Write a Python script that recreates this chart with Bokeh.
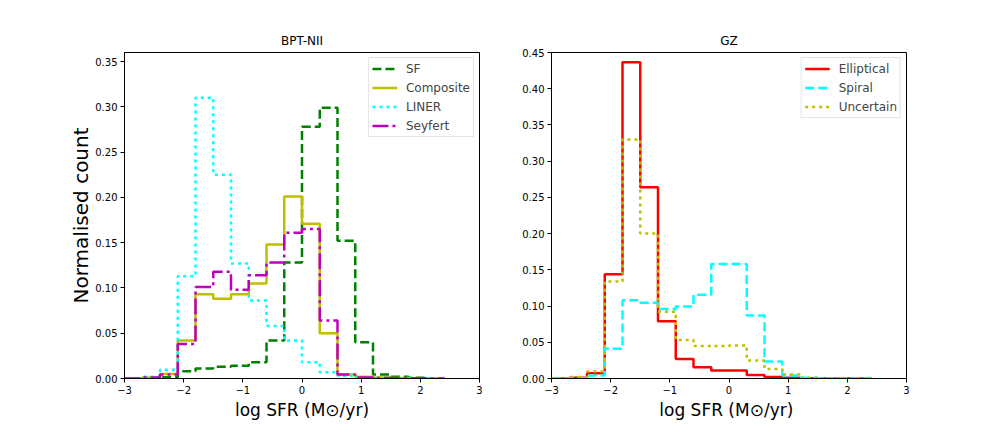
from bokeh.plotting import figure
from bokeh.layouts import row
from bokeh.models import Legend, LegendItem, Range1d, FixedTicker
from bokeh.embed import file_html
from bokeh.resources import INLINE

# ---- data ----
edges = [-3.0, -2.7, -2.4, -2.1, -1.8, -1.5, -1.2, -0.9, -0.6, -0.3, 0.0,
         0.3, 0.6, 0.9, 1.2, 1.5, 1.8, 2.1, 2.4]

sf = [0, 0, 0.0015, 0.008, 0.011, 0.013, 0.014, 0.018, 0.042, 0.128, 0.278,
      0.299, 0.152, 0.040, 0.0044, 0.002, 0.0008, 0.0003]
composite = [0, 0.001, 0.005, 0.042, 0.093, 0.088, 0.093, 0.105, 0.148, 0.201,
             0.171, 0.050, 0.0045, 0.002, 0.001, 0.0005, 0.0003, 0.0002]
liner = [0, 0.002, 0.0096, 0.113, 0.310, 0.225, 0.127, 0.086, 0.058, 0.042,
         0.018, 0.007, 0.003, 0.001, 0.0005, 0.0003, 0.0002, 0.0001]
seyfert = [0, 0.001, 0.0044, 0.038, 0.101, 0.118, 0.098, 0.114, 0.128, 0.161,
           0.165, 0.064, 0.0044, 0.001, 0.0005, 0.0003, 0.0002, 0.0001]

elliptical = [0, 0.001, 0.0074, 0.144, 0.4365, 0.264, 0.079, 0.027, 0.0157,
              0.011, 0.011, 0.005, 0.002, 0.001, 0.0005, 0.0003, 0.0002, 0.0001]
spiral = [0, 0.0005, 0.004, 0.041, 0.108, 0.1045, 0.096, 0.0995, 0.1155, 0.158,
          0.158, 0.087, 0.0235, 0.004, 0.001, 0.0005, 0.0003, 0.0002]
uncertain = [0, 0.002, 0.0097, 0.134, 0.33, 0.2, 0.092, 0.053, 0.0447, 0.045,
             0.0456, 0.025, 0.013, 0.0055, 0.001, 0.0005, 0.0003, 0.0002]

x_ticks = [-3, -2, -1, 0, 1, 2, 3]
y_ticks_left = [0.0, 0.05, 0.10, 0.15, 0.20, 0.25, 0.30, 0.35]
y_ticks_right = [0.0, 0.05, 0.10, 0.15, 0.20, 0.25, 0.30, 0.35, 0.40, 0.45]

FONT = "DejaVu Sans"


def step_path(e, v):
    xs, ys = [e[0]], [0.0]
    for i, val in enumerate(v):
        xs += [e[i], e[i + 1]]
        ys += [val, val]
    xs.append(e[-1])
    ys.append(0.0)
    return xs, ys


def make_fig(title, ymax, yticks, border_left, border_right, xlabel, ylabel=None):
    p = figure(frame_width=355, frame_height=326, output_backend="svg",
               toolbar_location=None, x_range=Range1d(-3, 3),
               y_range=Range1d(0, ymax), title=title,
               min_border_left=border_left, min_border_right=border_right,
               min_border_top=52, min_border_bottom=46)
    p.title.align = "center"
    p.title.text_font = FONT
    p.title.text_font_size = "12px"
    p.title.text_font_style = "normal"
    p.title.text_color = "black"
    p.grid.visible = False
    p.outline_line_color = "black"
    p.outline_line_width = 1
    p.background_fill_color = "white"
    p.border_fill_color = "white"
    for ax in (p.xaxis[0], p.yaxis[0]):
        ax.axis_line_color = "black"
        ax.major_tick_line_color = "black"
        ax.minor_tick_line_color = None
        ax.major_tick_out = 4
        ax.major_tick_in = 0
        ax.major_label_text_font = FONT
        ax.major_label_text_font_size = "10px"
        ax.major_label_text_color = "black"
        ax.axis_label_text_font = FONT
        ax.axis_label_text_font_style = "normal"
        ax.axis_label_text_color = "black"
        ax.major_label_standoff = 3
    p.xaxis.ticker = FixedTicker(ticks=x_ticks)
    p.xaxis.major_label_overrides = {t: ("\u2212" + str(abs(t)) if t < 0 else str(t)) for t in x_ticks}
    p.yaxis.ticker = FixedTicker(ticks=yticks)
    p.yaxis.major_label_overrides = {t: f"{t:.2f}" for t in yticks}
    p.xaxis.axis_label = xlabel
    p.xaxis.axis_label_text_font_size = "17px"
    p.xaxis.axis_label_standoff = 3
    if ylabel:
        p.yaxis.axis_label = ylabel
        p.yaxis.axis_label_text_font_size = "20px"
        p.yaxis.axis_label_standoff = -1
    return p


def add_legend(p, items):
    leg = Legend(items=items, location="top_right", margin=5, padding=3,
                 spacing=4, glyph_width=25, glyph_height=15, label_height=15,
                 label_text_font=FONT, label_text_font_size="12px",
                 label_standoff=9,
                 border_line_color="#cccccc", border_line_width=1,
                 background_fill_color="white", background_fill_alpha=0.8)
    p.add_layout(leg)


# ---- left panel ----
p1 = make_fig("BPT-NII", 0.36, y_ticks_left, 124, 28,
              "log SFR (M\u2299/yr)", "Normalised count")
series1 = [
    ("SF", sf, "#008000", "9 4"),
    ("Composite", composite, "#bfbf00", "solid"),
    ("LINER", liner, "#00ffff", "3 4"),
    ("Seyfert", seyfert, "#bf00bf", "16 4 3 4"),
]
items1 = []
for name, vals, col, dash in series1:
    xs, ys = step_path(edges, vals)
    r = p1.line(xs, ys, line_color=col, line_width=2.5, line_dash=dash)
    items1.append(LegendItem(label=name, renderers=[r]))
add_legend(p1, items1)

# ---- right panel ----
p2 = make_fig("GZ", 0.45, y_ticks_right, 44, 85,
              "log  SFR (M\u2299/yr)")
series2 = [
    ("Elliptical", elliptical, "#ff0000", "solid"),
    ("Spiral", spiral, "#00ffff", "9 4"),
    ("Uncertain", uncertain, "#bfbf00", "3 4"),
]
items2 = []
for name, vals, col, dash in series2:
    xs, ys = step_path(edges, vals)
    r = p2.line(xs, ys, line_color=col, line_width=2.5, line_dash=dash)
    items2.append(LegendItem(label=name, renderers=[r]))
add_legend(p2, items2)

layout = row(p1, p2)
open("out.html", "w").write(file_html(layout, INLINE))
